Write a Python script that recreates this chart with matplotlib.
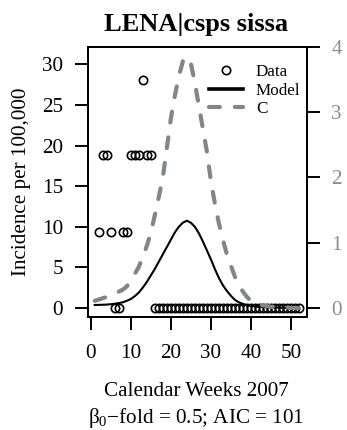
import matplotlib
matplotlib.use("Agg")
import matplotlib.pyplot as plt
import numpy as np

plt.rcParams['font.family'] = ['Liberation Serif', 'DejaVu Serif']
plt.rcParams['mathtext.fontset'] = 'custom'
plt.rcParams['mathtext.rm'] = 'Liberation Serif'
plt.rcParams['mathtext.it'] = 'Liberation Serif:italic'

# ---- data ----
data_weeks = [2, 3, 4, 5, 6, 7, 8, 9, 10, 11, 12, 13, 14, 15] + list(range(16, 53))
data_values = [9.4, 18.8, 18.8, 9.4, 0, 0, 9.4, 9.4, 18.8, 18.8, 18.8, 28.1, 18.8, 18.8] + [0] * 37

weeks = list(range(1, 53))
model = [0.37, 0.38, 0.40, 0.42, 0.46, 0.52, 0.60, 0.70, 0.88, 1.1,
         1.45, 1.9, 2.5, 3.2, 4.0, 4.8, 5.7, 6.6, 7.5, 8.4,
         9.3, 10.0, 10.5, 10.75, 10.5, 10.0, 9.2, 8.2, 7.1, 6.0,
         4.8, 3.7, 2.8, 2.1, 1.5, 1.0, 0.7, 0.5, 0.35, 0.25,
         0.18, 0.13, 0.10, 0.08, 0.06, 0.05, 0.04, 0.03, 0.02, 0.02,
         0.01, 0.01]
c_values = [0.11, 0.13, 0.15, 0.17, 0.19, 0.22, 0.25, 0.28, 0.33, 0.42,
            0.52, 0.63, 0.78, 0.95, 1.15, 1.42, 1.70, 2.0, 2.45, 2.9,
            3.25, 3.55, 3.78, 3.85, 3.75, 3.45, 3.1, 2.75, 2.4, 1.95,
            1.6, 1.3, 1.05, 0.82, 0.65, 0.48, 0.35, 0.25, 0.17, 0.11,
            0.07, 0.05, 0.04, 0.03, 0.02, 0.02, 0.01, 0.01, 0.01, 0.0,
            0.0, 0.0]

xticks = [0, 10, 20, 30, 40, 50]
yticks_left = [0, 5, 10, 15, 20, 25, 30]
yticks_right = [0, 1, 2, 3, 4]

title = "LENA|csps sissa"
ylabel = "Incidence per 100,000"
xlabel1 = "Calendar Weeks 2007"
xlabel2 = "β$_0$−fold = 0.5; AIC = 101"

gray = '#7f8885'
fs = 15.2

fig = plt.figure(figsize=(3.47, 4.30), dpi=100)
ax = fig.add_axes([87.5/347, 1 - 317/430, (307 - 87.5)/347, (317 - 47)/430])
ax2 = ax.twinx()

pts, = ax.plot(data_weeks, data_values, linestyle='none', marker='o', markersize=6.0,
               markerfacecolor='none', markeredgecolor='black', markeredgewidth=1.2,
               label='Data', zorder=3)
mline, = ax.plot(weeks, model, color='black', lw=1.5, label='Model', zorder=2)
cline, = ax2.plot(weeks, c_values, color=gray, lw=3.0, label='C',
                  dash_capstyle='round', zorder=4)
cline.set_dashes([2.6, 3.6])

ax.set_xlim(-0.8, 54)
ax.set_ylim(-1.11, 32.14)
ax2.set_ylim(-0.138, 4.0)

ax.set_xticks(xticks)
ax.set_yticks(yticks_left)
ax2.set_yticks(yticks_right)

for sp in ax.spines.values():
    sp.set_linewidth(1.4)
for sp in ax2.spines.values():
    sp.set_linewidth(1.4)

ax.tick_params(axis='x', length=9.5, width=1.4, pad=10, labelsize=fs)
ax.tick_params(axis='y', length=9.5, width=1.4, pad=8, labelsize=fs)
ax2.tick_params(axis='y', length=9.5, width=1.4, pad=8, labelsize=fs,
                labelcolor='#8c8c8c', color='black')

ax.set_ylabel(ylabel, fontsize=fs, labelpad=8)

fig.text(196.5/347, 1 - 31/430, title, ha='center', va='baseline',
         fontsize=19, fontweight='bold')
fig.text(196.5/347, 1 - 396.5/430, xlabel1, ha='center', va='baseline', fontsize=fs)
fig.text(196.5/347, 1 - 422.5/430, xlabel2, ha='center', va='baseline', fontsize=fs)

leg = ax2.legend(handles=[pts, mline, cline], loc='upper right',
                 bbox_to_anchor=(1.009, 0.967), frameon=False,
                 fontsize=12.3, handlelength=2.0, handletextpad=0.75,
                 labelspacing=0.12, borderaxespad=0.2, borderpad=0.3)
leg.legend_handles[1].set_linewidth(2.6)

fig.savefig("out.png", dpi=100)
